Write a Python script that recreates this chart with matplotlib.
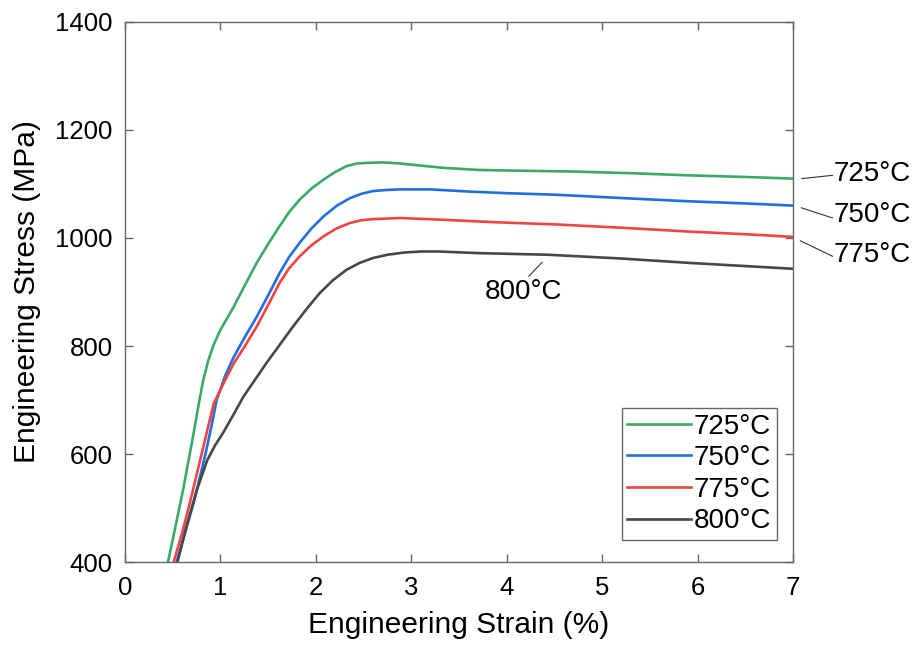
import matplotlib
matplotlib.use('Agg')
import matplotlib.pyplot as plt

plt.rcParams['font.family'] = ['Liberation Sans', 'DejaVu Sans']

# ---- data ----
x_725 = [0.45, 0.53, 0.61, 0.72, 0.78, 0.82, 0.87, 0.93, 1.0, 1.14, 1.26, 1.38, 1.5, 1.62, 1.72,
         1.83, 1.95, 2.08, 2.2, 2.32, 2.43, 2.53, 2.7, 2.88, 3.1, 3.33, 3.7, 4.0, 4.71, 5.3, 5.9, 6.5, 7.0]
y_725 = [400, 467, 535, 640, 700, 737, 772, 803, 830, 873, 914, 954, 989, 1022, 1048,
         1071, 1091, 1108, 1122, 1133, 1138, 1139, 1140, 1138, 1134, 1130, 1126, 1125, 1123, 1120, 1116, 1113, 1110]

x_750 = [0.54, 0.63, 0.72, 0.84, 0.91, 0.96, 1.05, 1.14, 1.26, 1.38, 1.5, 1.62, 1.72, 1.83, 1.95,
         2.08, 2.22, 2.36, 2.48, 2.60, 2.75, 2.88, 3.2, 3.6, 4.0, 4.53, 5.2, 5.9, 6.5, 7.0]
y_750 = [400, 455, 510, 598, 655, 700, 745, 780, 818, 854, 894, 935, 965, 991, 1017,
         1040, 1060, 1074, 1082, 1087, 1089, 1090, 1090, 1086, 1083, 1080, 1074, 1068, 1064, 1060]

x_775 = [0.51, 0.6, 0.68, 0.82, 0.93, 1.05, 1.14, 1.26, 1.38, 1.5, 1.62, 1.72, 1.83, 1.95,
         2.08, 2.22, 2.36, 2.48, 2.60, 2.75, 2.88, 3.3, 3.9, 4.53, 5.2, 5.9, 6.5, 7.0]
y_775 = [400, 455, 510, 613, 694, 737, 768, 801, 836, 876, 917, 944, 966, 986,
         1003, 1018, 1028, 1033, 1035, 1036, 1037, 1034, 1029, 1025, 1019, 1012, 1007, 1002]

x_800 = [0.55, 0.65, 0.75, 0.86, 0.94, 1.03, 1.14, 1.24, 1.36, 1.48, 1.62, 1.76, 1.9, 2.04, 2.18,
         2.32, 2.46, 2.60, 2.75, 2.92, 3.1, 3.29, 3.7, 4.43, 5.2, 5.9, 6.5, 7.0]
y_800 = [400, 470, 532, 588, 615, 640, 674, 706, 737, 768, 802, 836, 868, 898, 922,
         941, 954, 963, 969, 973, 975, 975, 972, 969, 962, 954, 948, 943]

labels = ['725°C', '750°C', '775°C', '800°C']
colors = ['#3aaa66', '#1f6fe0', '#f04444', '#474747']

# end labels outside the axes: (line start, line end, text y)
end_notes = [
    ((7.09, 1110), (7.415, 1116), 1118),
    ((7.085, 1056), (7.415, 1037), 1042),
    ((7.075, 995), (7.415, 966), 969),
]

fig = plt.figure(figsize=(9.18, 6.52), dpi=100)
ax = fig.add_axes([0.1362, 0.138, 0.7277, 0.8283])

series = [(x_725, y_725), (x_750, y_750), (x_775, y_775), (x_800, y_800)]
for (xs, ys), lab, c in zip(series, labels, colors):
    ax.plot(xs, ys, color=c, lw=1.9, label=lab)

ax.set_xlim(0, 7)
ax.set_ylim(400, 1400)
ax.set_xticks(range(0, 8))
ax.set_yticks(range(400, 1401, 200))

for s in ax.spines.values():
    s.set_color('#666666')
    s.set_linewidth(1.0)
ax.tick_params(direction='in', length=6, width=1.0, color='#666666',
               top=True, right=True, labelsize=18.5)
ax.tick_params(axis='x', pad=10)
ax.tick_params(axis='y', pad=9)

ax.set_xlabel('Engineering Strain (%)', fontsize=21.5, labelpad=8)
ax.set_ylabel('Engineering Stress (MPa)', fontsize=21.5, labelpad=10)

for (start, end, ty), lab in zip(end_notes, labels[:3]):
    ax.annotate('', xy=start, xytext=end, annotation_clip=False,
                arrowprops=dict(arrowstyle='-', lw=0.8, color='#333333',
                                shrinkA=0, shrinkB=0))
    ax.text(end[0] + 0.01, ty, lab, fontsize=20, ha='left', va='center',
            clip_on=False)

ax.annotate('', xy=(4.37, 955), xytext=(4.23, 929),
            arrowprops=dict(arrowstyle='-', lw=0.8, color='#333333',
                            shrinkA=0, shrinkB=0))
ax.text(4.18, 900, labels[3], fontsize=20, ha='center', va='center')

leg = ax.legend(loc='lower right', bbox_to_anchor=(0.976, 0.041), borderaxespad=0,
                fontsize=20, fancybox=False, framealpha=1, edgecolor='#666666',
                handlelength=2.3, handletextpad=0.1, labelspacing=0.2,
                borderpad=0.2)
leg.get_frame().set_linewidth(1.0)

fig.savefig('out.png', dpi=100)
